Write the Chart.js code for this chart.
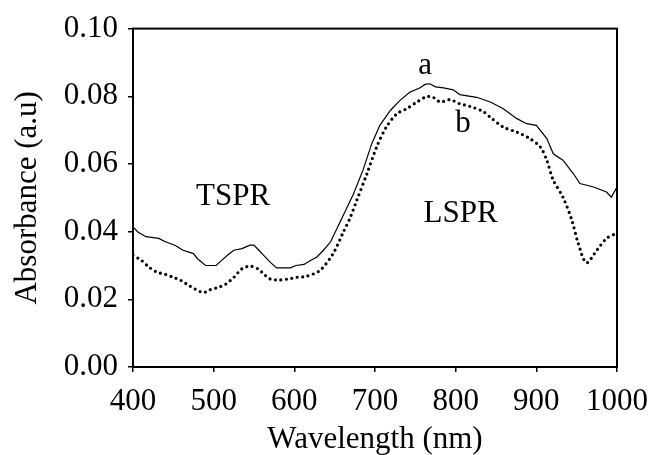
<!DOCTYPE html>
<html>
<head>
<meta charset="utf-8">
<script src="https://cdn.jsdelivr.net/npm/chart.js@4/dist/chart.umd.min.js"></script>
<style>
html,body{margin:0;padding:0;background:#fff;}
#wrap{width:663px;height:455px;position:relative;}
</style>
</head>
<body>
<div id="wrap"><canvas id="c" width="663" height="455"></canvas></div>
<script>
// Curve a (solid)
const seriesA = [
  [400,0.0414],[406,0.0399],[416,0.0385],[432,0.0380],[440,0.0370],[452,0.0360],[462,0.0345],
  [475,0.0335],[480,0.0320],[490,0.0300],[503,0.0300],[510,0.0315],[517,0.0330],[525,0.0345],
  [535,0.0350],[545,0.0360],[550,0.0360],[556,0.0345],[562,0.0330],[570,0.0310],[578,0.0293],
  [595,0.0293],[602,0.0300],[612,0.0303],[620,0.0315],[628,0.0325],[636,0.0345],[645,0.0370],
  [657,0.0430],[665,0.0470],[673,0.0510],[685,0.0581],[696,0.0660],[706,0.0714],[719,0.0758],
  [731,0.0788],[743,0.0812],[756,0.0825],[762,0.0835],[768,0.0837],[775,0.0828],[785,0.0825],
  [797,0.0819],[805,0.0805],[826,0.0797],[843,0.0783],[859,0.0763],[876,0.0734],[888,0.0719],
  [900,0.0714],[913,0.0675],[921,0.0630],[933,0.0611],[946,0.0571],[954,0.0542],[971,0.0532],
  [987,0.0517],[993,0.0502],[1000,0.0532]
];
// Curve b (dotted)
const seriesB = [
  [400,0.0330],[410,0.0316],[420,0.0295],[430,0.0280],[440,0.0274],[450,0.0265],[460,0.0255],
  [470,0.0240],[487,0.0220],[495,0.0228],[505,0.0235],[515,0.0245],[525,0.0265],[535,0.0290],
  [545,0.0298],[555,0.0290],[562,0.0275],[570,0.0260],[580,0.0257],[592,0.0260],[603,0.0265],
  [615,0.0268],[632,0.0286],[648,0.0335],[661,0.0400],[669,0.0440],[677,0.0490],[690,0.0571],
  [702,0.0650],[714,0.0709],[727,0.0748],[739,0.0763],[752,0.0783],[764,0.0799],[772,0.0797],
  [781,0.0783],[793,0.0790],[805,0.0778],[818,0.0770],[834,0.0755],[843,0.0738],[859,0.0709],
  [876,0.0694],[892,0.0675],[905,0.0650],[913,0.0611],[921,0.0552],[933,0.0502],[944,0.0434],
  [952,0.0365],[962,0.0308],[975,0.0345],[987,0.0380],[1000,0.0396]
];
const xTicks = [400,500,600,700,800,900,1000];
const yTicks = [0.00,0.02,0.04,0.06,0.08,0.10];
// Text annotations: [text, wavelength, absorbance at baseline]
const notes = [
  ['TSPR', 524, 0.0478],
  ['LSPR', 806, 0.0428],
  ['a', 762, 0.0867],
  ['b', 809, 0.0693]
];

const FONT = "'Liberation Serif','Times New Roman',serif";
const FS = 31;

const framePlugin = {
  id: 'frame',
  afterDatasetsDraw(chart) {
    const {ctx, chartArea: a, scales} = chart;
    ctx.save();
    ctx.strokeStyle = '#000';
    ctx.lineWidth = 2;
    ctx.strokeRect(a.left, a.top, a.right - a.left, a.bottom - a.top);
    ctx.fillStyle = '#000';
    ctx.font = FS + 'px ' + FONT;
    ctx.textAlign = 'center';
    ctx.textBaseline = 'alphabetic';
    notes.forEach(([t, x, y]) => {
      ctx.fillText(t, scales.x.getPixelForValue(x), scales.y.getPixelForValue(y));
    });
    ctx.restore();
  }
};

new Chart(document.getElementById('c'), {
  type: 'line',
  data: {
    datasets: [
      {
        label: 'a',
        data: seriesA.map(([x, y]) => ({x, y})),
        borderColor: '#000',
        borderWidth: 1.2,
        pointRadius: 0,
        tension: 0,
        fill: false
      },
      {
        label: 'b',
        data: seriesB.map(([x, y]) => ({x, y})),
        borderColor: '#000',
        borderWidth: 3.2,
        borderDash: [0, 5.5],
        borderCapStyle: 'round',
        pointRadius: 0,
        tension: 0.3,
        fill: false
      }
    ]
  },
  options: {
    responsive: false,
    animation: false,
    layout: { padding: { top: 28, right: 46, left: 0, bottom: 0 } },
    plugins: { legend: { display: false }, tooltip: { enabled: false } },
    scales: {
      x: {
        type: 'linear',
        min: 400, max: 1000,
        afterBuildTicks(s) { s.ticks = xTicks.map(v => ({value: v})); },
        afterFit(s) { s.height = 88; },
        grid: { drawOnChartArea: false, drawTicks: true, tickLength: 5, color: '#000', lineWidth: 1.5 },
        border: { display: true, color: '#000', width: 2 },
        ticks: { color: '#000', font: { family: FONT, size: FS }, padding: 11, maxRotation: 0, autoSkip: false, callback: v => String(v) },
        title: { display: true, text: 'Wavelength (nm)', color: '#000', font: { family: FONT, size: FS, lineHeight: 1 }, padding: { top: 0, bottom: 0 } }
      },
      y: {
        type: 'linear',
        min: 0, max: 0.1,
        afterBuildTicks(s) { s.ticks = yTicks.map(v => ({value: v})); },
        afterFit(s) { s.width = 133; },
        grid: { drawOnChartArea: false, drawTicks: true, tickLength: 5, color: '#000', lineWidth: 1.5 },
        border: { display: true, color: '#000', width: 2 },
        ticks: { color: '#000', font: { family: FONT, size: FS }, padding: 10, callback: v => Number(v).toFixed(2) },
        title: { display: true, text: 'Absorbance (a.u)', color: '#000', font: { family: FONT, size: FS, lineHeight: 1 }, padding: { top: 12, bottom: 0 } }
      }
    }
  },
  plugins: [framePlugin]
});
</script>
</body>
</html>
